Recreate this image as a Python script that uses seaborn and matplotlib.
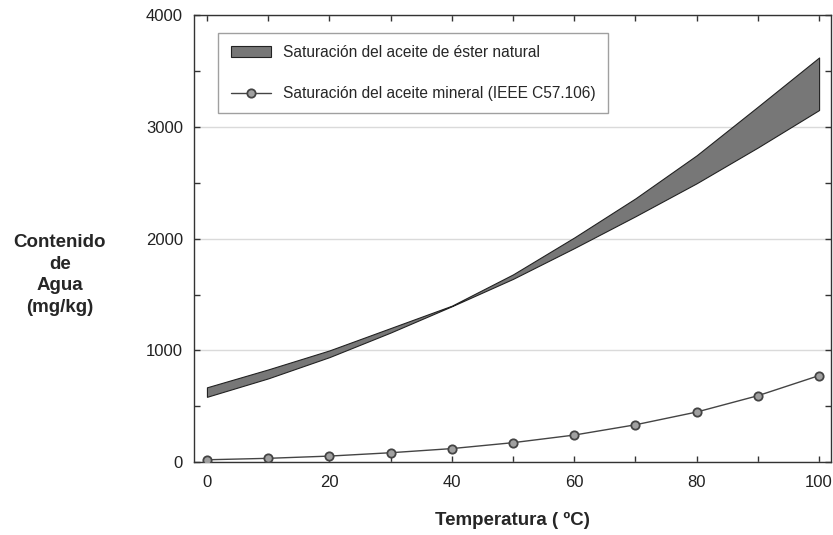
import matplotlib
matplotlib.use("Agg")
import matplotlib.pyplot as plt
from matplotlib.patches import Patch
from matplotlib.lines import Line2D
from matplotlib.ticker import MultipleLocator
import pandas as pd
import seaborn as sns

# Temperature (ºC)
temperatura = [0, 10, 20, 30, 40, 50, 60, 70, 80, 90, 100]
# Natural ester oil saturation band (mg/kg)
ester_sup = [670, 830, 1000, 1200, 1400, 1680, 2010, 2360, 2745, 3180, 3620]
ester_inf = [585, 750, 940, 1160, 1395, 1640, 1915, 2200, 2495, 2815, 3150]
# Mineral oil saturation (IEEE C57.106) (mg/kg)
mineral = [22, 35, 55, 85, 122, 175, 243, 335, 449, 595, 775]

df = pd.DataFrame({"Temperatura": temperatura, "mineral": mineral,
                   "sup": ester_sup, "inf": ester_inf})

sns.set_style("white")
plt.rcParams['font.family'] = ['Liberation Sans', 'DejaVu Sans']

fig = plt.figure(figsize=(8.33, 5.35), dpi=100)
ax = fig.add_axes([0.233, 0.136, 0.765, 0.836])

# Gridlines at major y ticks
ax.yaxis.grid(True, color="#dadada", linewidth=1)
ax.set_axisbelow(True)

# Ester band
ax.fill_between(df["Temperatura"], df["inf"], df["sup"],
                facecolor="#777777", edgecolor="#222222", linewidth=0.8, zorder=2)

# Mineral oil line
sns.lineplot(data=df, x="Temperatura", y="mineral", ax=ax, color="#444444",
             linewidth=1, marker="o", markersize=6, markerfacecolor="#a0a0a0",
             markeredgecolor="#444444", markeredgewidth=1.3, zorder=3)

ax.set_xlim(-2.1, 102)
ax.set_ylim(0, 4000)
ax.xaxis.set_major_locator(MultipleLocator(20))
ax.xaxis.set_minor_locator(MultipleLocator(10))
ax.yaxis.set_major_locator(MultipleLocator(1000))
ax.yaxis.set_minor_locator(MultipleLocator(500))
ax.tick_params(which="both", direction="in", top=True, right=True,
               bottom=True, left=True, length=4, width=1, color="#333333")
ax.tick_params(axis="x", pad=9)
ax.tick_params(axis="y", pad=8)

for lab in ax.get_xticklabels() + ax.get_yticklabels():
    lab.set_fontsize(12)
    lab.set_color("#222222")

for sp in ax.spines.values():
    sp.set_color("#333333")
    sp.set_linewidth(1)

ax.set_xlabel("Temperatura ( ºC)", fontsize=13.5, fontweight="bold", labelpad=16)
ax.set_ylabel("")
fig.text(0.072, 0.486, "Contenido\nde\nAgua\n(mg/kg)", ha="center", va="center",
         fontsize=13.5, fontweight="bold", linespacing=1.38)

handles = [Patch(facecolor="#777777", edgecolor="#222222", linewidth=0.8),
           Line2D([0], [0], color="#444444", linewidth=1, marker="o", markersize=6,
                  markerfacecolor="#a0a0a0", markeredgecolor="#444444", markeredgewidth=1.3)]
labels = ["Saturación del aceite de éster natural",
          "Saturación del aceite mineral (IEEE C57.106)"]
leg = ax.legend(handles, labels, loc="upper left", bbox_to_anchor=(0.038, 0.96),
                borderaxespad=0, fontsize=11.2, frameon=True, fancybox=False,
                edgecolor="#888888", handlelength=2.6, handleheight=0.7,
                labelspacing=1.65, borderpad=0.8, handletextpad=0.75)
leg.get_frame().set_linewidth(1)

fig.savefig("out.png", dpi=100)
